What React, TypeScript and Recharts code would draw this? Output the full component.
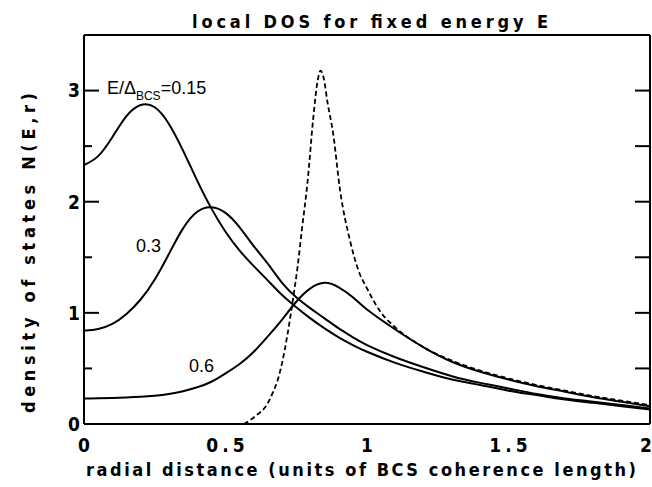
import React from 'react';
import { LineChart, Line, XAxis, YAxis, ReferenceDot } from 'recharts';

// radial distance grid (units of BCS coherence length)
const gridX = [0, 0.05, 0.1, 0.15, 0.2, 0.25, 0.3, 0.35, 0.4, 0.45, 0.5, 0.55, 0.6, 0.65, 0.7, 0.75, 0.8, 0.85, 0.9, 0.95, 1.0, 1.1, 1.2, 1.3, 1.4, 1.5, 1.6, 1.7, 1.8, 1.9, 2.0];
// E/Δ = 0.15
const dos015 = [2.33, 2.41, 2.58, 2.77, 2.87, 2.85, 2.7, 2.46, 2.19, 1.94, 1.73, 1.56, 1.42, 1.29, 1.16, 1.05, 0.95, 0.86, 0.78, 0.71, 0.65, 0.55, 0.47, 0.4, 0.35, 0.3, 0.26, 0.22, 0.19, 0.16, 0.13];
// E/Δ = 0.3
const dos03 = [0.84, 0.855, 0.9, 0.99, 1.12, 1.3, 1.53, 1.76, 1.91, 1.95, 1.9, 1.77, 1.6, 1.44, 1.27, 1.14, 1.04, 0.95, 0.86, 0.78, 0.71, 0.6, 0.51, 0.43, 0.37, 0.32, 0.27, 0.23, 0.2, 0.17, 0.14];
// E/Δ = 0.6
const dos06 = [0.23, 0.231, 0.234, 0.238, 0.244, 0.254, 0.27, 0.295, 0.33, 0.38, 0.455, 0.54, 0.65, 0.79, 0.94, 1.1, 1.22, 1.27, 1.23, 1.14, 1.03, 0.85, 0.69, 0.56, 0.47, 0.4, 0.34, 0.29, 0.24, 0.2, 0.16];
// dashed curve
const dashedX = [0.565, 0.59, 0.615, 0.64, 0.665, 0.685, 0.7, 0.72, 0.74, 0.755, 0.77, 0.79, 0.81, 0.825, 0.836, 0.848, 0.86, 0.88, 0.905, 0.94, 0.97, 1.0, 1.05, 1.1, 1.2, 1.3, 1.4, 1.5, 1.6, 1.7, 1.8, 1.9, 2.0];
const dashedY = [0, 0.04, 0.09, 0.15, 0.27, 0.4, 0.55, 0.82, 1.15, 1.42, 1.75, 2.18, 2.75, 3.08, 3.18, 3.1, 2.9, 2.62, 2.1, 1.65, 1.38, 1.22, 1.0, 0.87, 0.69, 0.57, 0.48, 0.41, 0.35, 0.3, 0.25, 0.21, 0.17];

const xTickLabels = [0, 0.5, 1, 1.5, 2];
const yTickLabels = [0, 1, 2, 3];
const xMinorTicks = [0.1, 0.2, 0.3, 0.4, 0.6, 0.7, 0.8, 0.9, 1.1, 1.2, 1.3, 1.4, 1.6, 1.7, 1.8, 1.9];
const xMajorTicks = [0.5, 1, 1.5];
const yMinorTicks = [0.5, 1.5, 2.5];
const yMajorTicks = [1, 2, 3];
const yRightTicks = [0.5, 1, 1.5, 2, 2.5, 3];

const titleText = 'local DOS for fixed energy E';
const xTitle = 'radial distance (units of BCS coherence length)';
const yTitle = 'density of states N(E,r)';

const toPoints = (xs: number[], ys: number[]) => xs.map((x, i) => ({ x, y: ys[i] }));

const plotFont = '"Liberation Sans Narrow", "DejaVu Sans Condensed", "Liberation Sans", sans-serif';
const labelFont = '"Liberation Sans", Arial, sans-serif';

const NoTick = () => null;
const THIN = 0.01;

const XTick = (props: any) => {
  const { x, y, payload } = props;
  const last = payload.value === 2;
  return (
    <text x={last ? 652 : x} y={y + 28} dx={last ? 0 : 2} textAnchor={last ? 'end' : 'middle'} fontFamily={plotFont} fontWeight="bold" fontSize={19} letterSpacing={last ? 0 : 4} fill="#000">
      {String(payload.value)}
    </text>
  );
};

const YTick = (props: any) => {
  const { x, y, payload } = props;
  return (
    <text x={x - 4} y={y} dy="0.36em" textAnchor="end" fontFamily={plotFont} fontWeight="bold" fontSize={19} fill="#000">
      {String(payload.value)}
    </text>
  );
};

const TitleLabel = () => (
  <text x={192} y={28} fontFamily={plotFont} fontWeight="bold" fontSize={18} textLength={356} lengthAdjust="spacing" fill="#000">
    {titleText}
  </text>
);

const XTitleLabel = () => (
  <text x={86} y={476} fontFamily={plotFont} fontWeight="bold" fontSize={18} textLength={550} lengthAdjust="spacing" fill="#000">
    {xTitle}
  </text>
);

const YTitleLabel = () => (
  <text x={0} y={0} transform="translate(35,413) rotate(-90)" fontFamily={plotFont} fontWeight="bold" fontSize={18} textLength={320} lengthAdjust="spacing" fill="#000">
    {yTitle}
  </text>
);

const mkTextLabel = (kind: string) => (props: any) => {
  const { viewBox } = props;
  const x = viewBox.x;
  const y = viewBox.y;
  if (kind === 'e') {
    return (
      <text x={x} y={y} fontFamily={labelFont} fontSize={18} fill="#000">
        E/Δ
        <tspan fontSize={12} dy={6}>BCS</tspan>
        <tspan fontSize={18} dy={-6}>=0.15</tspan>
      </text>
    );
  }
  return (
    <text x={x} y={y} fontFamily={labelFont} fontSize={18} fill="#000">
      {kind}
    </text>
  );
};

const axisStroke = { stroke: '#000', strokeWidth: 2 };

export default function App() {
  return (
    <div style={{ position: 'absolute', left: 0, top: 0, background: '#fff' }}>
      <LineChart width={652} height={487} margin={{ top: 35, right: 2, bottom: 63, left: 84 }}>
        <XAxis xAxisId="x" dataKey="x" type="number" domain={[0, 2]} allowDataOverflow ticks={xTickLabels} interval={0}
          height={THIN} tickLine={false} tickSize={0} tickMargin={0} axisLine={axisStroke} tick={<XTick />}
          label={{ content: () => <XTitleLabel /> }} />
        <XAxis xAxisId="xminB" type="number" domain={[0, 2]} allowDataOverflow ticks={xMinorTicks} interval={0}
          height={THIN} mirror tickSize={7} tickLine={axisStroke} axisLine={false} tick={NoTick} />
        <XAxis xAxisId="xmajB" type="number" domain={[0, 2]} allowDataOverflow ticks={xMajorTicks} interval={0}
          height={THIN} mirror tickSize={13} tickLine={axisStroke} axisLine={false} tick={NoTick} />
        <XAxis xAxisId="xminT" orientation="top" type="number" domain={[0, 2]} allowDataOverflow ticks={xMinorTicks} interval={0}
          height={THIN} mirror tickSize={8} tickLine={axisStroke} axisLine={axisStroke} tick={NoTick}
          label={{ content: () => <TitleLabel /> }} />
        <XAxis xAxisId="xmajT" orientation="top" type="number" domain={[0, 2]} allowDataOverflow ticks={xMajorTicks} interval={0}
          height={THIN} mirror tickSize={15} tickLine={axisStroke} axisLine={false} tick={NoTick} />

        <YAxis yAxisId="y" type="number" domain={[0, 3.5]} allowDataOverflow ticks={yTickLabels} interval={0}
          width={THIN} tickLine={false} tickSize={0} tickMargin={0} axisLine={axisStroke} tick={<YTick />}
          label={{ content: () => <YTitleLabel /> }} />
        <YAxis yAxisId="yminL" type="number" domain={[0, 3.5]} allowDataOverflow ticks={yMinorTicks} interval={0}
          width={THIN} mirror tickSize={8} tickLine={axisStroke} axisLine={false} tick={NoTick} />
        <YAxis yAxisId="ymajL" type="number" domain={[0, 3.5]} allowDataOverflow ticks={yMajorTicks} interval={0}
          width={THIN} mirror tickSize={15} tickLine={axisStroke} axisLine={false} tick={NoTick} />
        <YAxis yAxisId="yR" orientation="right" type="number" domain={[0, 3.5]} allowDataOverflow ticks={yRightTicks} interval={0}
          width={THIN} mirror tickSize={15} tickLine={axisStroke} axisLine={axisStroke} tick={NoTick} />

        <Line xAxisId="x" yAxisId="y" data={toPoints(gridX, dos015)} dataKey="y" type="natural" stroke="#000" strokeWidth={2} dot={false} isAnimationActive={false} />
        <Line xAxisId="x" yAxisId="y" data={toPoints(gridX, dos03)} dataKey="y" type="natural" stroke="#000" strokeWidth={2} dot={false} isAnimationActive={false} />
        <Line xAxisId="x" yAxisId="y" data={toPoints(gridX, dos06)} dataKey="y" type="natural" stroke="#000" strokeWidth={2} dot={false} isAnimationActive={false} />
        <Line xAxisId="x" yAxisId="y" data={toPoints(dashedX, dashedY)} dataKey="y" type="monotone" stroke="#000" strokeWidth={1.8} strokeDasharray="5 3" dot={false} isAnimationActive={false} />

        <ReferenceDot xAxisId="x" yAxisId="y" x={0.081} y={2.965} r={0} fill="none" stroke="none" label={{ content: mkTextLabel('e') }} />
        <ReferenceDot xAxisId="x" yAxisId="y" x={0.184} y={1.545} r={0} fill="none" stroke="none" label={{ content: mkTextLabel('0.3') }} />
        <ReferenceDot xAxisId="x" yAxisId="y" x={0.371} y={0.467} r={0} fill="none" stroke="none" label={{ content: mkTextLabel('0.6') }} />
      </LineChart>
    </div>
  );
}
